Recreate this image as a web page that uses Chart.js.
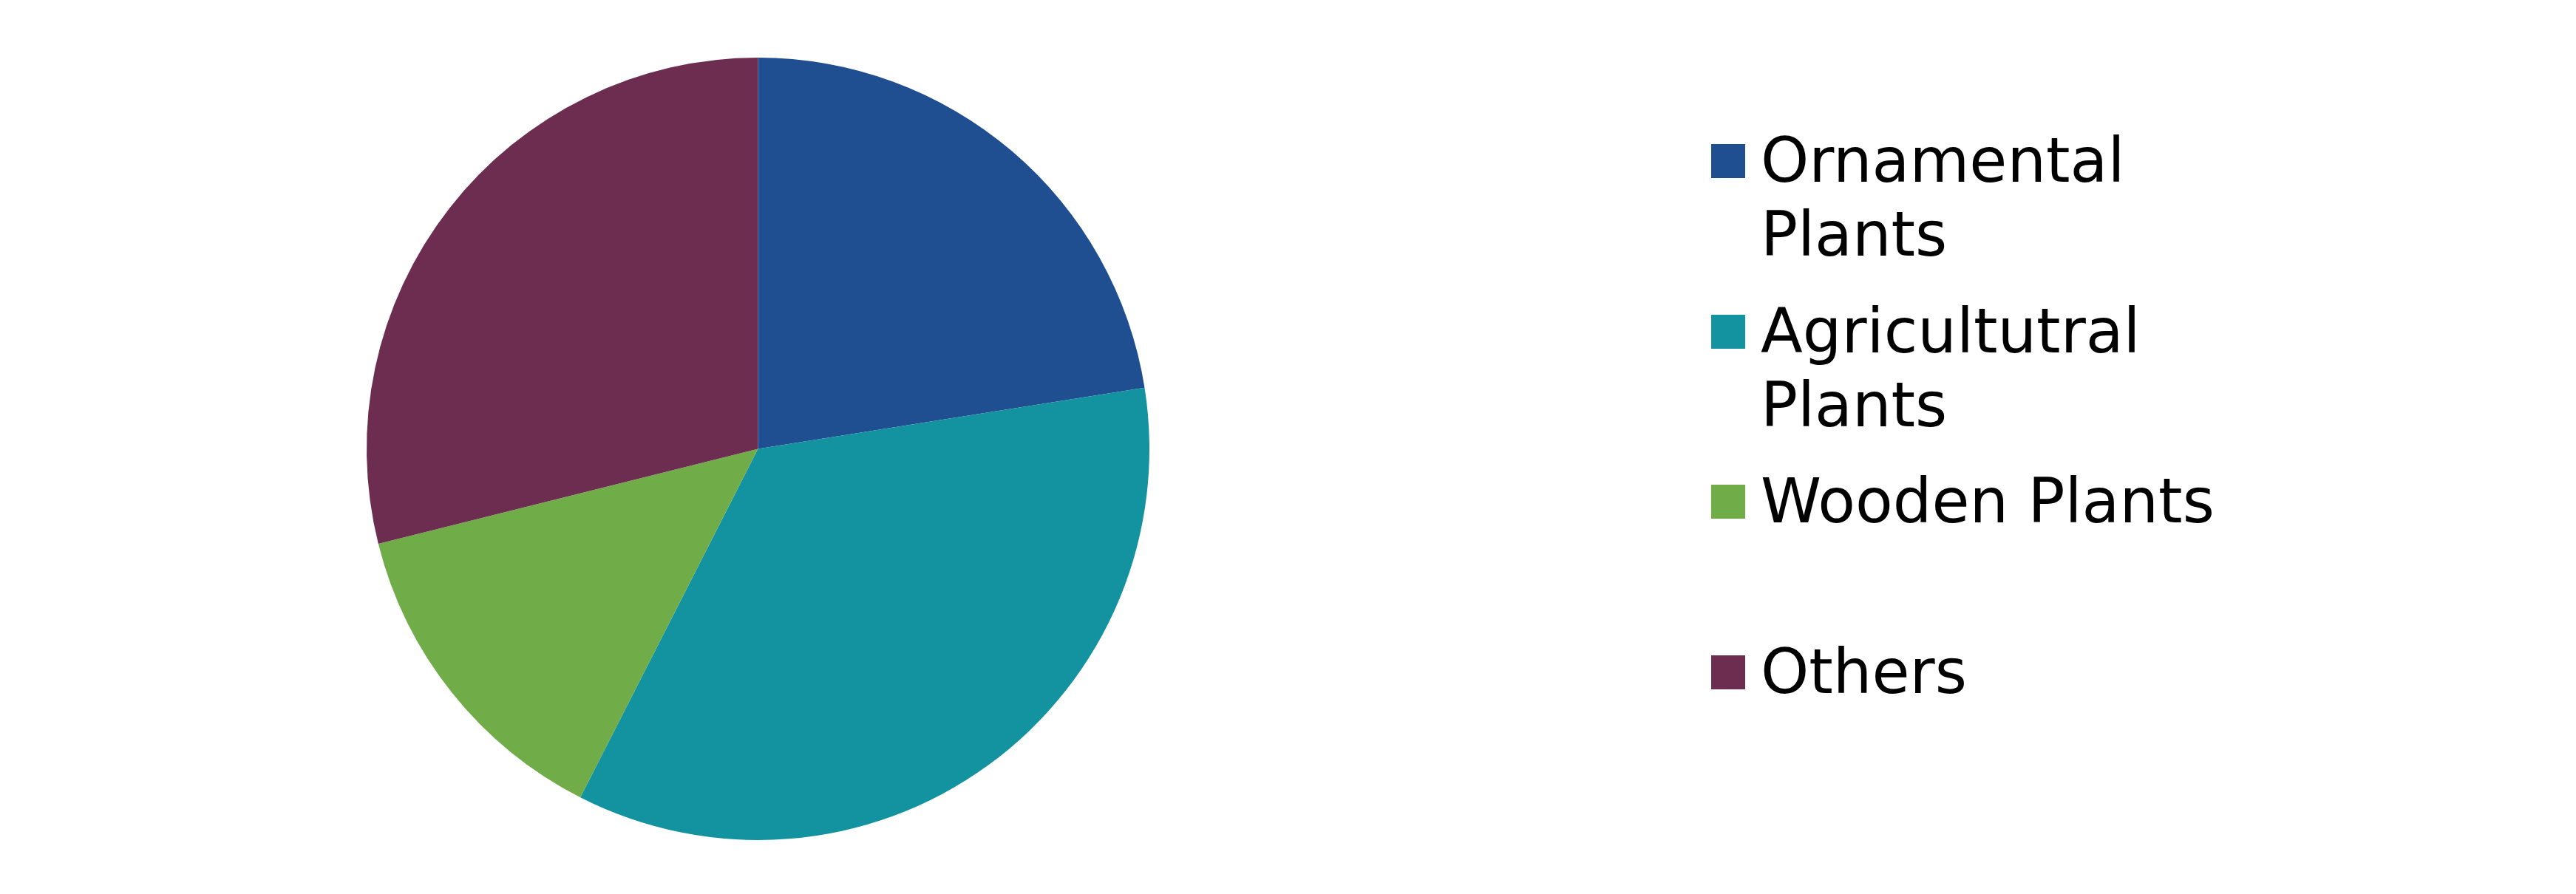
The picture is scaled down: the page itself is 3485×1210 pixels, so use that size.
<!DOCTYPE html>
<html lang="en">
<head>
  <meta charset="UTF-8">
  <title>Plant shares</title>
  <script src="https://cdn.jsdelivr.net/npm/chart.js"></script>
  <style>
    html, body { margin: 0; padding: 0; background: #fff; overflow: hidden; }
    .page { position: relative; width: 3485px; height: 1210px; }
    .pie-box { position: absolute; left: 0; top: 0; width: 2051px; height: 1210px; }
    #legend { position: absolute; left: 2315px; top: 0; }
    #legend .item {
      position: absolute;
      left: 0;
      width: 800px;
      font-family: "DejaVu Sans", sans-serif;
      font-size: 83px;
      line-height: 100px;
      color: #000;
    }
    #legend .swatch {
      position: absolute;
      left: 0;
      top: 27px;
      width: 46px;
      height: 46px;
    }
    #legend .label {
      margin-left: 67px;
      width: 700px;
    }
  </style>
</head>
<body>
<div class="page">
  <div class="pie-box">
    <canvas id="pieChart"></canvas>
  </div>
  <div id="legend"></div>
</div>

<script>
  const categories = ['Ornamental Plants', 'Agricultutral Plants', 'Wooden Plants', 'Others'];
  const shares = [22.5, 35.0, 13.6, 28.9];
  const sliceColors = ['#1F4E91', '#13929F', '#70AC48', '#6D2D50'];

  // legend drawn as html so the wrapped labels sit like the original
  const htmlLegend = {
    id: 'htmlLegend',
    afterUpdate(chart) {
      const box = document.getElementById('legend');
      box.innerHTML = '';
      const items = chart.options.plugins.legend.labels.generateLabels(chart);
      items.forEach((it, i) => {
        const row = document.createElement('div');
        row.className = 'item';
        row.style.top = (168 + i * 230.5) + 'px';
        const sw = document.createElement('span');
        sw.className = 'swatch';
        sw.style.background = it.fillStyle;
        const txt = document.createElement('div');
        txt.className = 'label';
        txt.textContent = it.text;
        row.appendChild(sw);
        row.appendChild(txt);
        box.appendChild(row);
      });
    }
  };

  new Chart(document.getElementById('pieChart'), {
    type: 'pie',
    data: {
      labels: categories,
      datasets: [{
        data: shares,
        backgroundColor: sliceColors,
        borderWidth: 0,
        hoverOffset: 0
      }]
    },
    options: {
      responsive: true,
      maintainAspectRatio: false,
      animation: false,
      layout: { padding: { top: 78, bottom: 73, left: 0, right: 0 } },
      plugins: {
        legend: { display: false },
        tooltip: { enabled: false }
      }
    },
    plugins: [htmlLegend]
  });
</script>
</body>
</html>
